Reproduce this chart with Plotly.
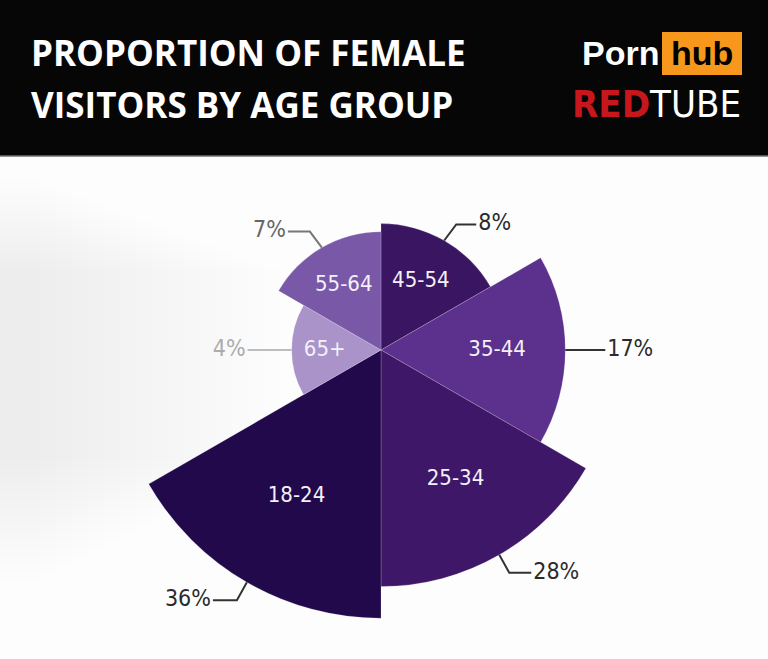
import math
import numpy as np
import plotly.graph_objects as go

# ---- data ----
age_groups = ["45-54", "35-44", "25-34", "18-24", "65+", "55-64"]
share_pct = [8, 17, 28, 36, 4, 7]
pct_labels = ["8%", "17%", "28%", "36%", "4%", "7%"]
colors = ["#3a1562", "#5c318e", "#3f1768", "#21094b", "#a993c8", "#7a58a8"]

W, H = 768, 659
CX, CY = 381, 350          # pixel centre of the rose
K = 44.7                   # pixels per sqrt(percent)
HALF = 305                 # half size of the polar domain, px
RMAX = HALF / K
FONT_C = "DejaVu Sans Condensed, Liberation Sans Narrow, sans-serif"

r_vals = np.sqrt(np.array(share_pct, dtype=float))   # area-proportional wedges
n = len(age_groups)
width = 360 / n
theta_mid = [width / 2 + i * width for i in range(n)]

fig = go.Figure()

fig.add_trace(go.Barpolar(
    r=r_vals, theta=theta_mid, width=[width] * n,
    marker=dict(color=colors, line=dict(color="rgba(255,255,255,0.3)", width=0.6)),
    hoverinfo="skip", showlegend=False,
))

# wedge labels
fig.add_trace(go.Scatterpolar(
    r=r_vals * 0.63, theta=theta_mid, mode="text", text=age_groups,
    textfont=dict(color="#f4f0f8", size=22, family=FONT_C),
    hoverinfo="skip", showlegend=False, cliponaxis=False,
))


def px_to_polar(x, y):
    dx, dy = x - CX, y - CY
    return math.hypot(dx, dy) / K, math.degrees(math.atan2(dx, -dy)) % 360


# leader geometry: (elbow offset, horizontal run, side)
leaders = {
    "45-54": ((12, -16), 20, "right"),
    "35-44": ((0, 0), 40, "right"),
    "25-34": ((10, 18), 22, "right"),
    "18-24": ((-10, 18), -24, "left"),
    "65+": ((0, 0), -44, "left"),
    "55-64": ((-12, -16), -22, "left"),
}
pct_colors = {"65+": "#acacac", "55-64": "#666666"}
line_colors = {"65+": "#bdbdbd", "55-64": "#777777"}

for i, g in enumerate(age_groups):
    a = math.radians(theta_mid[i])
    rw = r_vals[i] * K
    sx, sy = CX + rw * math.sin(a), CY - rw * math.cos(a)
    (ex, ey), run, side = leaders[g]
    pts = [(sx, sy), (sx + ex, sy + ey), (sx + ex + run, sy + ey)]
    pol = [px_to_polar(x, y) for x, y in pts]
    fig.add_trace(go.Scatterpolar(
        r=[p[0] for p in pol], theta=[p[1] for p in pol], mode="lines",
        line=dict(color=line_colors.get(g, "#333333"), width=2),
        hoverinfo="skip", showlegend=False,
    ))
    tx = pts[-1][0] + (2 if side == "right" else -2)
    tr, tt = px_to_polar(tx, pts[-1][1])
    fig.add_trace(go.Scatterpolar(
        r=[tr], theta=[tt], mode="text", text=[pct_labels[i]],
        textposition="middle right" if side == "right" else "middle left",
        textfont=dict(color=pct_colors.get(g, "#2b2b2b"), size=23, family=FONT_C),
        hoverinfo="skip", showlegend=False, cliponaxis=False,
    ))

dom_x = [(CX - HALF) / W, (CX + HALF) / W]
dom_y = [(H - CY - HALF) / H, (H - CY + HALF) / H]

header_bottom = (H - 156) / H

# very soft grey wash on the left of the white area
wash = []
for j in range(16):
    wash.append(dict(type="rect", xref="paper", yref="paper",
                     x0=0, x1=(40 + j * 16) / W,
                     y0=(H - 580 + j * 8) / H, y1=(H - 180 - j * 6) / H,
                     fillcolor="rgba(110,110,110,0.006)", line=dict(width=0), layer="below"))

fig.update_layout(
    width=W, height=H,
    margin=dict(l=0, r=0, t=0, b=0),
    paper_bgcolor="#fdfdfd",
    polar=dict(
        domain=dict(x=dom_x, y=dom_y),
        bgcolor="rgba(0,0,0,0)",
        angularaxis=dict(rotation=90, direction="clockwise", visible=False, showgrid=False),
        radialaxis=dict(range=[0, RMAX], visible=False, showgrid=False),
        bargap=0,
    ),
    shapes=wash + [
        dict(type="rect", xref="paper", yref="paper", x0=0, x1=1, y0=header_bottom, y1=1,
             fillcolor="#060606", line=dict(width=0), layer="below"),
        dict(type="line", xref="paper", yref="paper", x0=0, x1=1, y0=header_bottom, y1=header_bottom,
             line=dict(color="#707070", width=1.5), layer="below"),
        dict(type="rect", xref="paper", yref="paper", x0=662 / W, x1=742 / W,
             y0=(H - 75) / H, y1=(H - 32) / H, fillcolor="#f7971c", line=dict(width=0), layer="below"),
    ],
    annotations=[
        dict(text="<b>PROPORTION OF FEMALE</b>", x=29 / W, y=(H - 52) / H, xref="paper", yref="paper",
             xanchor="left", yanchor="middle", showarrow=False,
             font=dict(color="white", size=35, family="Open Sans, sans-serif")),
        dict(text="<b>VISITORS BY AGE GROUP</b>", x=29 / W, y=(H - 104) / H, xref="paper", yref="paper",
             xanchor="left", yanchor="middle", showarrow=False,
             font=dict(color="white", size=35, family="Open Sans, sans-serif")),
        dict(text="<b>Porn</b>", x=661 / W, y=(H - 53) / H, xref="paper", yref="paper",
             xanchor="right", yanchor="middle", showarrow=False,
             font=dict(color="white", size=34, family="Liberation Sans, Arial, sans-serif")),
        dict(text="<b>hub</b>", x=702 / W, y=(H - 53) / H, xref="paper", yref="paper",
             xanchor="center", yanchor="middle", showarrow=False,
             font=dict(color="#000000", size=34, family="Liberation Sans, Arial, sans-serif")),
        dict(text="<span style='color:#c8161d'><b>RED</b></span>TUBE", x=743 / W, y=(H - 104) / H,
             xref="paper", yref="paper", xanchor="right", yanchor="middle", showarrow=False,
             font=dict(color="white", size=38, family=FONT_C)),
    ],
)

fig.write_html("out.html", config={"displayModeBar": False},
               post_script="document.body.style.margin='0';document.body.style.padding='0';")
